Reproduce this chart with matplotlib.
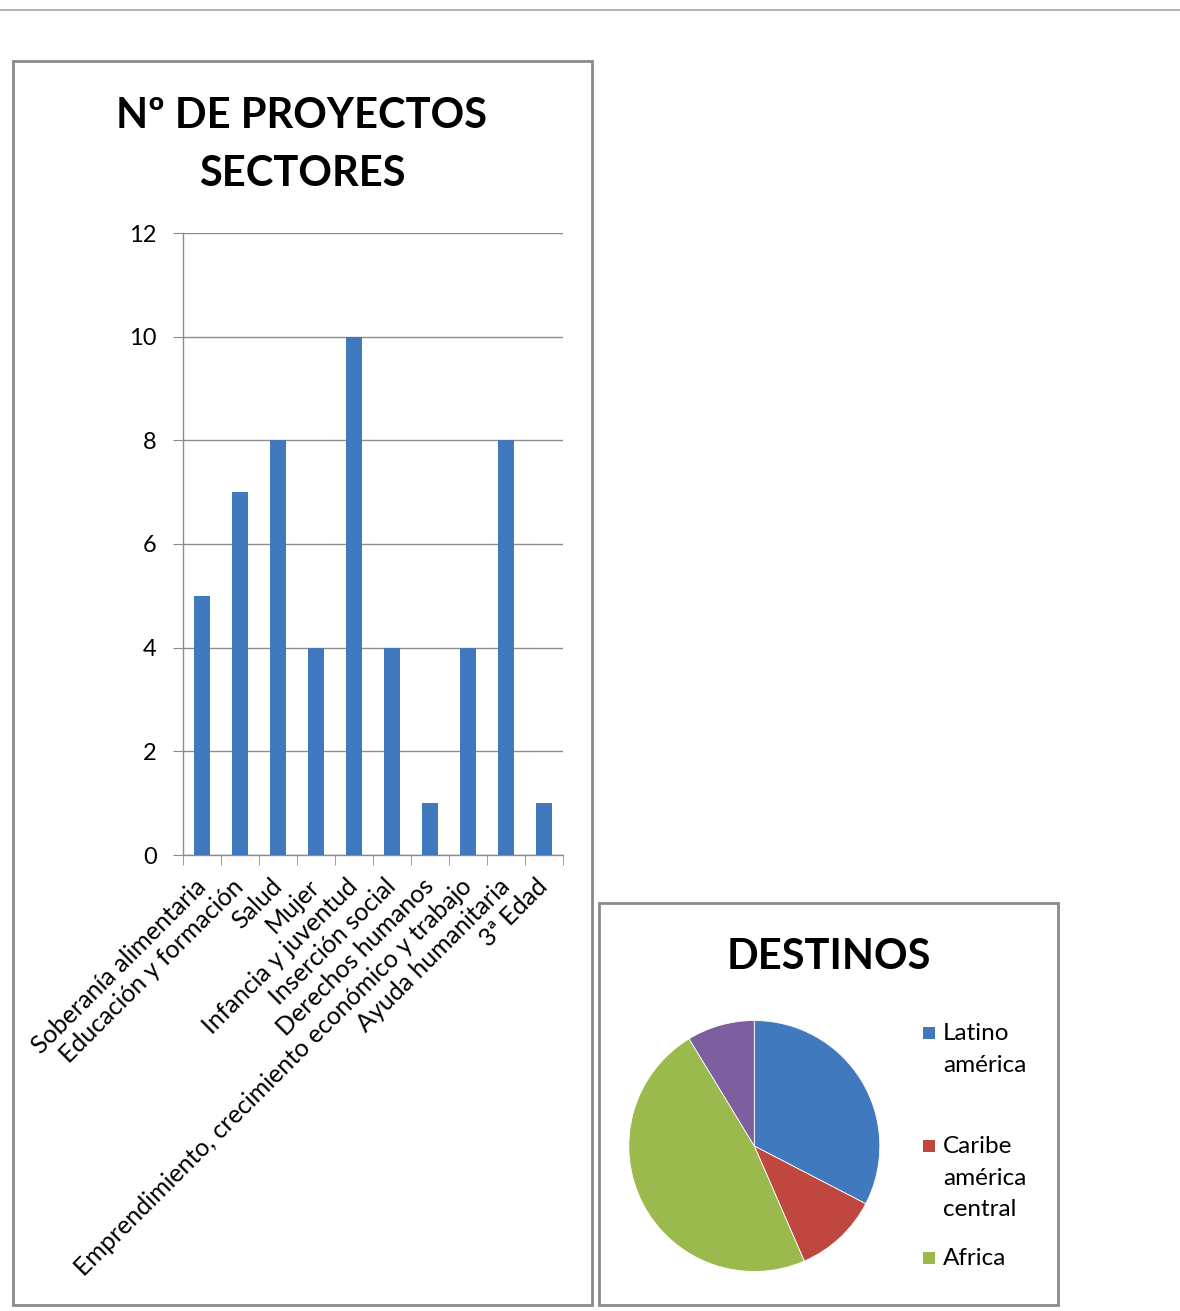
import matplotlib
matplotlib.use("Agg")
import matplotlib.pyplot as plt
from matplotlib.patches import Rectangle
from matplotlib.lines import Line2D
import numpy as np

# --- data -------------------------------------------------------------
sectores = [
    "Soberanía alimentaria",
    "Educación y formación",
    "Salud",
    "Mujer",
    "Infancia y juventud",
    "Inserción social",
    "Derechos humanos",
    "Emprendimiento, crecimiento económico y trabajo",
    "Ayuda humanitaria",
    "3ª Edad",
]
proyectos = [5, 7, 8, 4, 10, 4, 1, 4, 8, 1]
y_ticks = [0, 2, 4, 6, 8, 10, 12]

destinos = ["Latino\namérica", "Caribe\namérica\ncentral", "Africa", "Asia"]
destinos_valores = [15, 5, 22, 4]

# --- style ------------------------------------------------------------
W, H = 1180, 1311
FONT = "Lato"
BLUE = "#4179BE"
PIE_COLORS = ["#4179BE", "#C0473F", "#9BBA4E", "#7D5FA0"]
GRID = "#8C8C8C"
BOX = "#8A8A8A"

plt.rcParams["font.family"] = [FONT, "DejaVu Sans"]

fig = plt.figure(figsize=(W / 100, H / 100), dpi=100)
fig.patch.set_facecolor("white")


def fx(x):
    return x / W


def fy(y):
    return 1 - y / H


# thin rule across the top of the page
fig.add_artist(Line2D([0, 1], [fy(9.5), fy(9.5)], transform=fig.transFigure,
                      color="#A6A6A6", lw=1.2))

# chart frames
for (x0, y0, x1, y1) in [(13, 61, 592, 1305), (599, 903, 1058, 1305)]:
    fig.add_artist(Rectangle((fx(x0), fy(y1)), fx(x1) - fx(x0), fy(y0) - fy(y1),
                             transform=fig.transFigure, fill=False,
                             edgecolor=BOX, lw=2.0))

# --- bar chart ---------------------------------------------------------
ax = fig.add_axes([fx(183), fy(855), fx(563) - fx(183), fy(233) - fy(855)])
n = len(sectores)
xpos = np.arange(n)
ax.bar(xpos, proyectos, width=0.4, color=BLUE, zorder=3)
ax.set_xlim(-0.5, n - 0.5)
ax.set_ylim(0, 12)
ax.set_yticks(y_ticks)
ax.set_yticklabels([str(v) for v in y_ticks], fontsize=17)
ax.yaxis.grid(True, color=GRID, lw=1.0, zorder=0)
ax.tick_params(axis="y", length=7, color=GRID, pad=12)
ax.set_xticks(xpos)
ax.set_xticklabels(sectores, rotation=45, ha="right", va="center",
                   rotation_mode="anchor", fontsize=18)
ax.tick_params(axis="x", which="major", length=0, pad=20)
ax.set_xticks(np.arange(n + 1) - 0.5, minor=True)
ax.tick_params(axis="x", which="minor", length=7, color=GRID)
for s in ["top", "right"]:
    ax.spines[s].set_visible(False)
for s in ["left", "bottom"]:
    ax.spines[s].set_color(GRID)
    ax.spines[s].set_linewidth(1.0)

fig.text(fx(302), fy(116), "Nº DE PROYECTOS", ha="center", va="center",
         fontsize=30, fontweight="bold")
fig.text(fx(302), fy(174), "SECTORES", ha="center", va="center",
         fontsize=30, fontweight="bold")

# --- pie chart ---------------------------------------------------------
r = 125.5
cx, cy = 754.3, 1146
pax = fig.add_axes([fx(cx - r), fy(cy + r), 2 * r / W, 2 * r / H])
pax.pie(destinos_valores, colors=PIE_COLORS, startangle=90, counterclock=False,
        radius=1.0, wedgeprops=dict(edgecolor="white", linewidth=0.6))
pax.set_xlim(-1, 1)
pax.set_ylim(-1, 1)

fig.text(fx(829), fy(957), "DESTINOS", ha="center", va="center",
         fontsize=30, fontweight="bold")

# legend (first three entries fit in the frame)
legend_tops = [1033, 1146, 1258]
for label, color, ytop in zip(destinos[:3], PIE_COLORS[:3], legend_tops):
    fig.add_artist(Rectangle((fx(923), fy(ytop + 6)), 12 / W, 12 / H,
                             transform=fig.transFigure, facecolor=color,
                             edgecolor="none"))
    fig.text(fx(943), fy(ytop - 10), label, ha="left", va="top",
             fontsize=17.5, linespacing=1.62)

fig.savefig("out.png", dpi=100, facecolor="white")
